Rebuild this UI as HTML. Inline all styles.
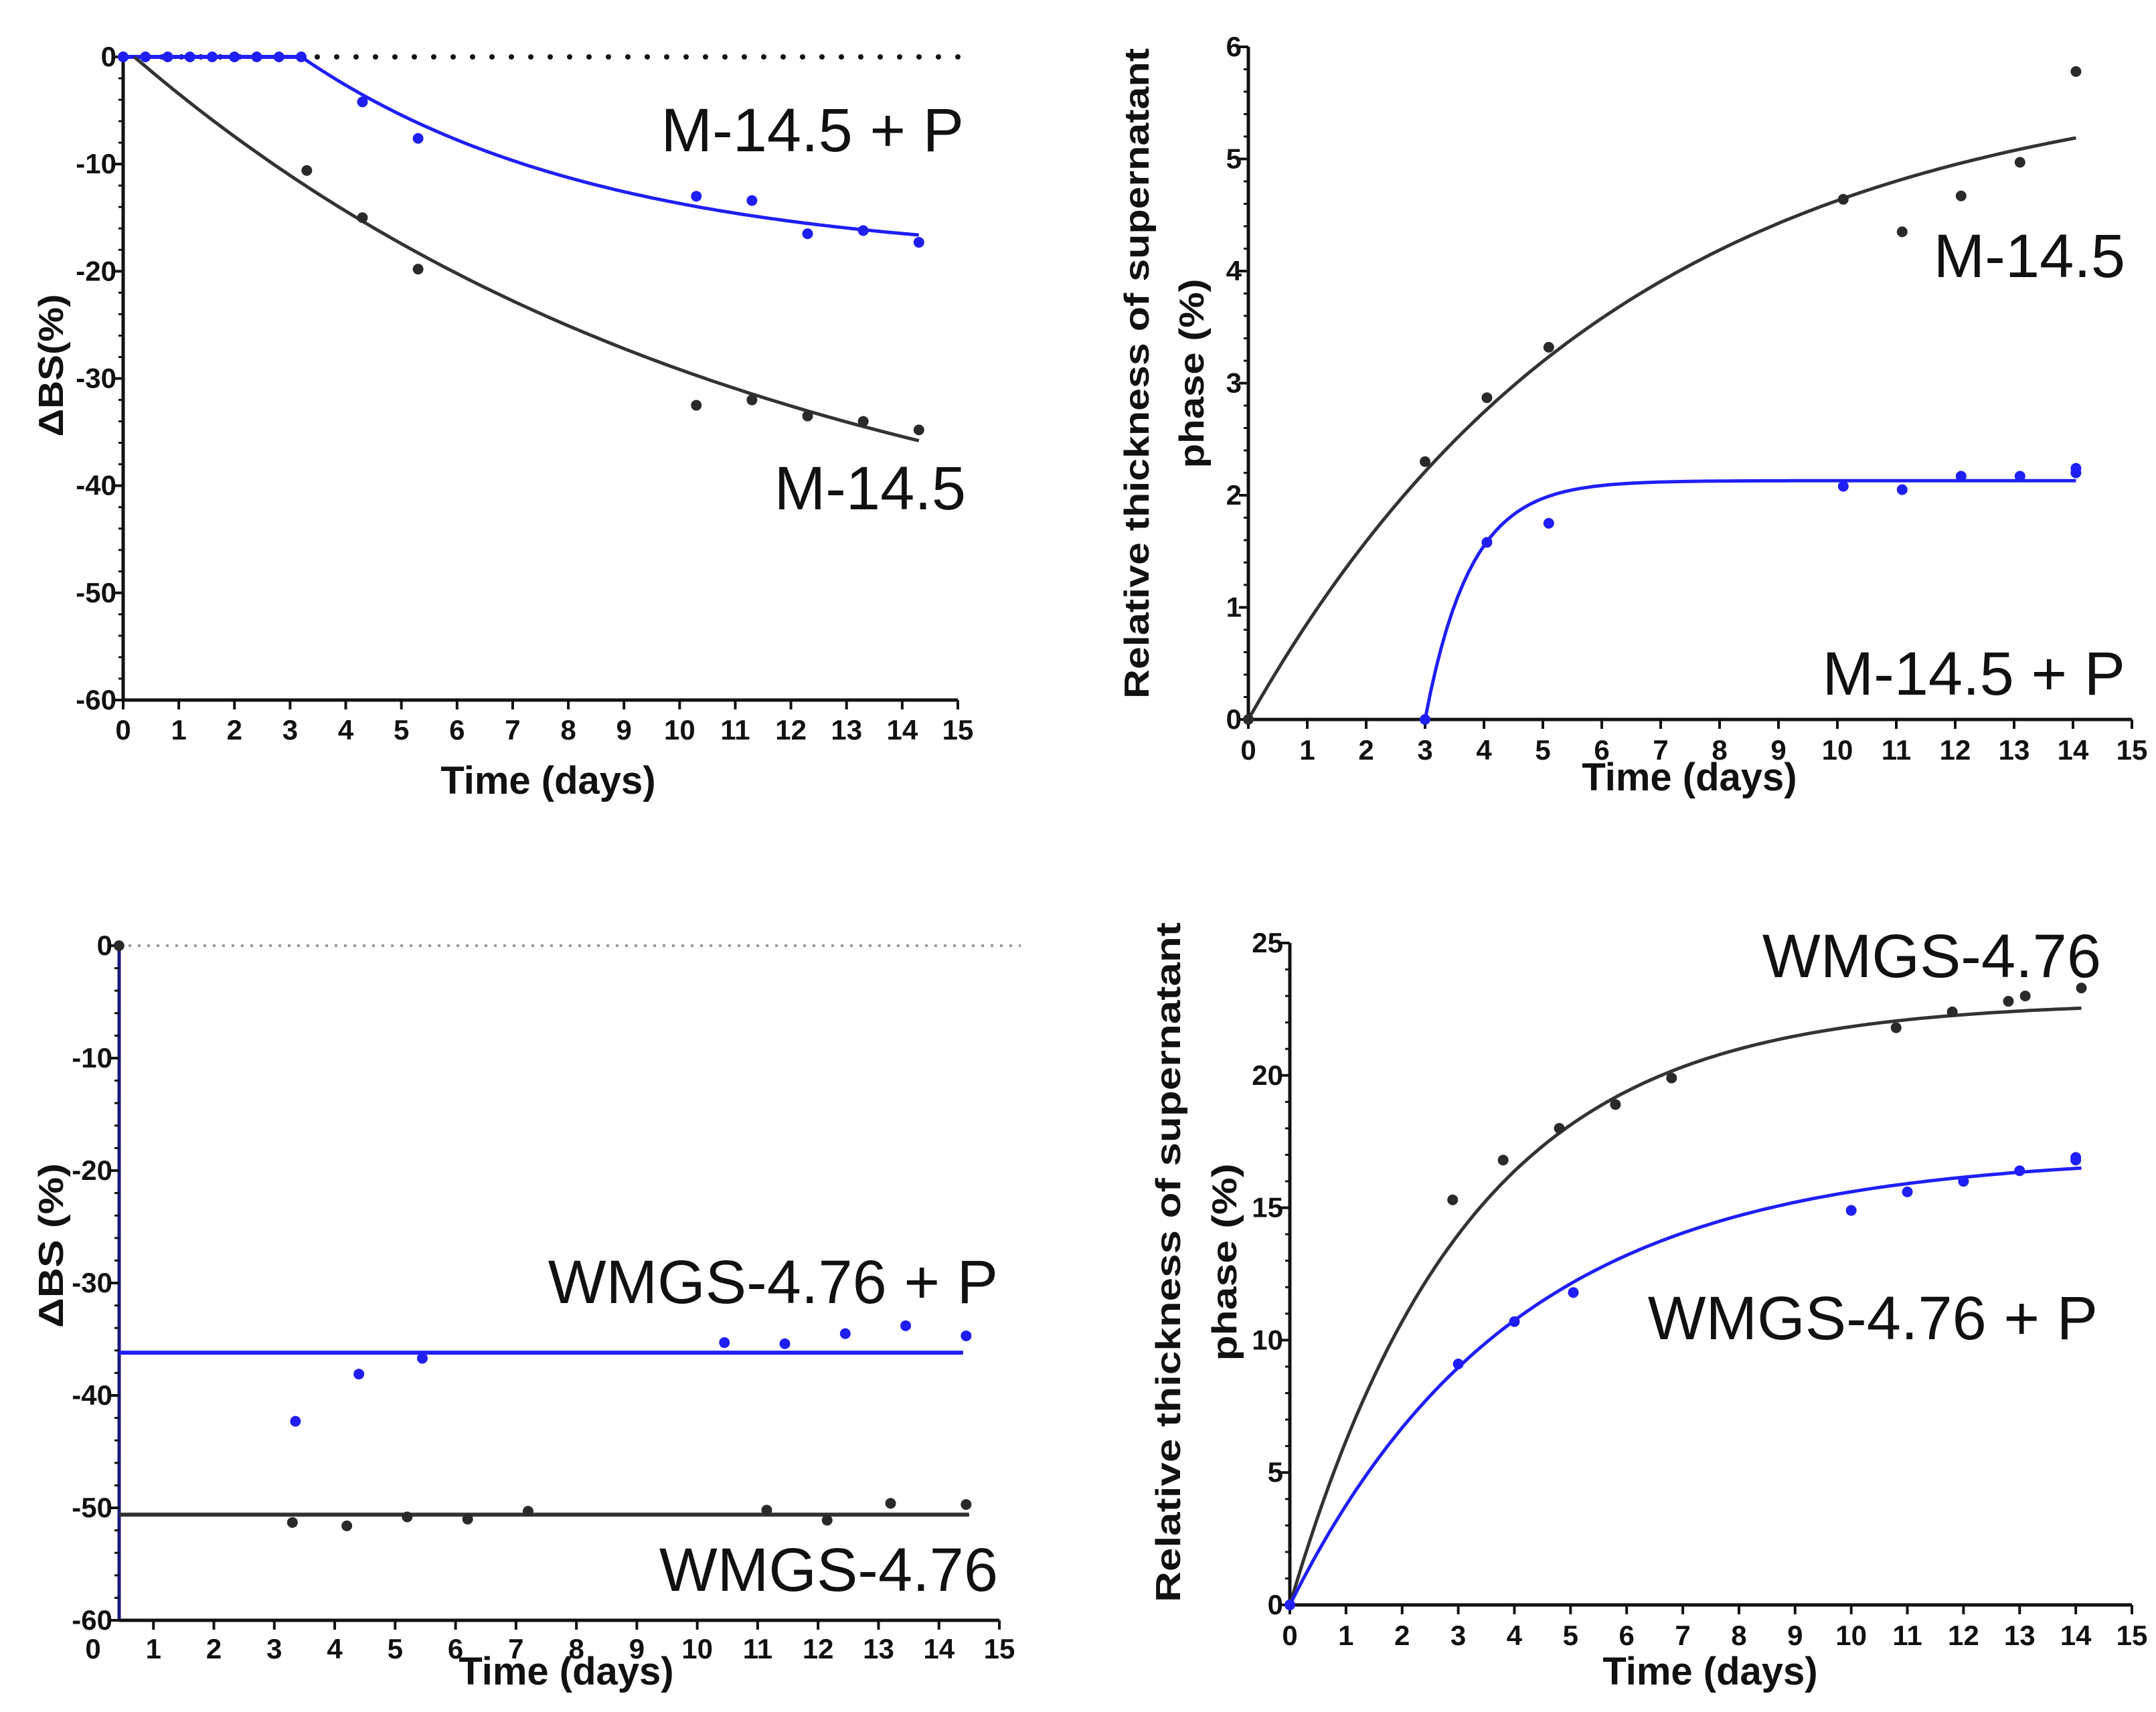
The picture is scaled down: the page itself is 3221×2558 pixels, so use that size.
<!DOCTYPE html>
<html><head><meta charset="utf-8"><style>
html,body{margin:0;padding:0;background:#fff;}
svg{display:block;font-family:"Liberation Sans",Arial,sans-serif;}
</style></head><body>
<svg id="fig" width="3221" height="2558" viewBox="0 0 3221 2558" xmlns="http://www.w3.org/2000/svg"></svg>
<script>
// ---------- Panel A: ΔBS M-14.5 ----------
const aBlackX = [0, 3.3, 4.3, 5.3, 10.3, 11.3, 12.3, 13.3, 14.3];
const aBlackY = [0, -10.6, -15, -19.8, -32.5, -32, -33.5, -34, -34.8];
const aBlueX = [0, 0.4, 0.8, 1.2, 1.6, 2.0, 2.4, 2.8, 3.2, 4.3, 5.3, 10.3, 11.3, 12.3, 13.3, 14.3];
const aBlueY = [0, 0, 0, 0, 0, 0, 0, 0, 0, -4.2, -7.6, -13, -13.4, -16.5, -16.2, -17.3];
const aBlackFit = [0.2, 14.3, -50, 0.0893];   // start, end, plateau, rate
const aBlueFit = [3.2, 14.3, -19, 0.187];
const aYTicks = [0, -10, -20, -30, -40, -50, -60];
// ---------- Panel B: thickness M-14.5 ----------
const bBlackX = [0, 3, 4.05, 5.1, 10.1, 11.1, 12.1, 13.1, 14.05];
const bBlackY = [0, 2.3, 2.87, 3.32, 4.64, 4.35, 4.67, 4.97, 5.78];
const bBlueX = [3, 4.05, 5.1, 10.1, 11.1, 12.1, 13.1, 14.05, 14.05];
const bBlueY = [0, 1.58, 1.75, 2.08, 2.05, 2.17, 2.17, 2.2, 2.24];
const bBlackFit = [0, 14.05, 5.8, 0.16];
const bBlueFit = [3, 14.05, 2.13, 1.3];
const bYTicks = [0, 1, 2, 3, 4, 5, 6];
// ---------- Panel C: ΔBS WMGS-4.76 ----------
const cBlackX = [3.3, 4.2, 5.2, 6.2, 7.2, 11.15, 12.15, 13.2, 14.45];
const cBlackY = [-51.3, -51.6, -50.8, -51, -50.3, -50.2, -51.1, -49.6, -49.7];
const cBlueX = [3.35, 4.4, 5.45, 10.45, 11.45, 12.45, 13.45, 14.45];
const cBlueY = [-42.3, -38.1, -36.7, -35.3, -35.4, -34.5, -33.8, -34.7];
const cBlackLevel = [0.43, 14.5, -50.6];
const cBlueLevel = [0.43, 14.4, -36.2];
const cYTicks = [0, -10, -20, -30, -40, -50, -60];
// ---------- Panel D: thickness WMGS-4.76 ----------
const dBlackX = [0, 2.9, 3.8, 4.8, 5.8, 6.8, 10.8, 11.8, 12.8, 13.1, 14.1];
const dBlackY = [0, 15.3, 16.8, 18, 18.9, 19.9, 21.8, 22.4, 22.8, 23, 23.3];
const dBlueX = [0, 3, 4, 5.05, 10, 11, 12, 13, 14, 14];
const dBlueY = [0, 9.1, 10.7, 11.8, 14.9, 15.6, 16, 16.4, 16.8, 16.9];
const dBlackFit = [0, 14.1, 22.8, 0.317];
const dBlueFit = [0, 14.1, 17, 0.25];
const dYTicks = [0, 5, 10, 15, 20, 25];
const xTicks = [0,1,2,3,4,5,6,7,8,9,10,11,12,13,14,15];

const NS = "http://www.w3.org/2000/svg";
const svg = document.getElementById('fig');
const BLUE = "#1f1ff5", BLACK = "#2a2a2a";
function mk(tag, attrs, parent, text) {
  const e = document.createElementNS(NS, tag);
  for (const k in attrs) e.setAttribute(k, attrs[k]);
  if (text !== undefined) e.textContent = text;
  (parent || svg).appendChild(e);
  return e;
}
function scales(p) {
  return {
    sx: v => p.x0 + (v / 15) * (p.x15 - p.x0),
    sy: v => p.yA + (v - p.vA) / (p.vB - p.vA) * (p.yB - p.yA)
  };
}
function axes(p, g, yTicks, name) {
  const s = scales(p);
  const yTop = s.sy(p.vA), yBot = s.sy(p.vB);
  const baseY = Math.max(yTop, yBot), topY = Math.min(yTop, yBot);
  const ax = mk('line', {x1:p.axisX, y1:topY, x2:p.axisX, y2:baseY, stroke:p.axisColor||"#111", 'stroke-width':5}, g);
  
  
  const xl = mk('line', {x1:p.axisX, y1:baseY, x2:s.sx(15), y2:baseY, stroke:"#111", 'stroke-width':5}, g);
  
  
  const step = (yTicks[1]-yTicks[0]) / 5;
  const nMinor = Math.round((yTicks[yTicks.length-1]-yTicks[0]) / step);
  for (let i = 0; i <= nMinor; i++) {
    const y = s.sy(yTicks[0] + i*step);
    mk('line', {x1:p.axisX-7, y1:y, x2:p.axisX, y2:y, stroke:"#111", 'stroke-width':3}, g);
  }
  yTicks.forEach(v => {
    const y = s.sy(v);
    mk('line', {x1:p.axisX-14, y1:y, x2:p.axisX, y2:y, stroke:"#111", 'stroke-width':4}, g);
    const t = mk('text', {x:p.axisX-10, y:y+14, 'text-anchor':'end', 'font-size':42, 'font-weight':'bold', fill:'#111'}, g, String(v));
    
    
  });
  xTicks.forEach(v => {
    const x = s.sx(v);
    if (x >= p.axisX - 1) mk('line', {x1:x, y1:baseY, x2:x, y2:baseY+14, stroke:"#111", 'stroke-width':4}, g);
    const t = mk('text', {x:x, y:p.xLabY+2, 'text-anchor':'middle', 'font-size':42, 'font-weight':'bold', fill:'#111'}, g, String(v));
    
    
  });
  const tl = mk('text', {x:p.timeX, y:p.timeY, 'text-anchor':'middle', 'font-size':58, 'font-weight':'bold', fill:'#111'}, g, 'Time (days)');
  
  
  return s;
}
function dots(s, xs, ys, color, g, name, r) {
  xs.forEach((x, i) => {
    const c = mk('circle', {cx:s.sx(x), cy:s.sy(ys[i]), r:r||8, fill:color}, g);
    
    
  });
}
function fitCurve(s, fit, color, g, name) {
  const [t0, t1, A, k] = fit;
  let d = '';
  for (let i = 0; i <= 120; i++) {
    const t = t0 + (t1 - t0) * i / 120;
    const v = A * (1 - Math.exp(-k * (t - t0)));
    d += (i ? 'L' : 'M') + s.sx(t).toFixed(1) + ',' + s.sy(v).toFixed(1);
  }
  const p = mk('path', {d:d, fill:'none', stroke:color, 'stroke-width':5}, g);
  
  
}
function level(s, lv, color, g, name) {
  const l = mk('line', {x1:s.sx(lv[0]), y1:s.sy(lv[2]), x2:s.sx(lv[1]), y2:s.sy(lv[2]), stroke:color, 'stroke-width':6}, g);
  
  
}
function label(g, txt, x, y, name, size) {
  const t = mk('text', {x:x, y:y, 'text-anchor':'end', 'font-size':size||92, fill:'#111'}, g, txt);
  
  
}
function yTitle(g, lines, cx, cy, lens, name) {
  lines.forEach((ln, i) => {
    const t = mk('text', {x:0, y:0, transform:`translate(${cx[i]},${cy}) rotate(-90)`, 'text-anchor':'middle', 'font-size':52, 'font-weight':'bold', fill:'#111', textLength:lens[i], lengthAdjust:'spacingAndGlyphs'}, g, ln);
    
    
  });
}

// Panel A
const gA = mk('g', {});  
const pA = {x0:184, x15:1431, axisX:184, vA:0, vB:-60, yA:85, yB:1046, xLabY:1103, timeX:819, timeY:1186};
const sA = axes(pA, gA, aYTicks, 'panel-a');
const zA = mk('line', {x1:184, y1:sA.sy(0), x2:1440, y2:sA.sy(0), stroke:'#111', 'stroke-width':8, 'stroke-dasharray':'0 29', 'stroke-linecap':'round'}, gA);
 
level(sA, [0, 3.2, 0], BLUE, gA, 'blue-baseline-segment');
fitCurve(sA, aBlackFit, "#333", gA, 'm145-fit-curve');
fitCurve(sA, aBlueFit, BLUE, gA, 'm145p-fit-curve');
dots(sA, aBlackX, aBlackY, BLACK, gA, 'm145-point');
dots(sA, aBlueX, aBlueY, BLUE, gA, 'm145p-point');
label(gA, 'M-14.5 + P', 1440, 226, 'label-m145p');
label(gA, 'M-14.5', 1443, 761, 'label-m145');
yTitle(gA, ['ΔBS(%)'], [94], 546, [213], 'panel-a-y-axis-title');

// Panel B
const gB = mk('g', {});  
const pB = {x0:1865, x15:3185, axisX:1865, vA:0, vB:6, yA:1075, yB:70, xLabY:1133, timeX:2524, timeY:1181};
const sB = axes(pB, gB, bYTicks, 'panel-b');
fitCurve(sB, bBlackFit, "#333", gB, 'm145-fit-curve');
fitCurve(sB, bBlueFit, BLUE, gB, 'm145p-fit-curve');
dots(sB, bBlackX, bBlackY, BLACK, gB, 'm145-point');
dots(sB, bBlueX, bBlueY, BLUE, gB, 'm145p-point');
label(gB, 'M-14.5', 3175, 414, 'label-m145');
label(gB, 'M-14.5 + P', 3175, 1038, 'label-m145p');
yTitle(gB, ['Relative thickness of supernatant', 'phase (%)'], [1716, 1798], 558, [972, 283], 'panel-b-y-axis-title');

// Panel C
const gC = mk('g', {});  
const pC = {x0:139, x15:1493, axisX:178, vA:0, vB:-60, yA:1413, yB:2421, xLabY:2476, timeX:846, timeY:2517, axisColor:'#1a1a80'};
const sC = axes(pC, gC, cYTicks, 'panel-c');
const zC = mk('line', {x1:178, y1:sC.sy(0), x2:1525, y2:sC.sy(0), stroke:'#999', 'stroke-width':4, 'stroke-dasharray':'4 10'}, gC);
 
level(sC, cBlueLevel, BLUE, gC, 'wmgsp-mean-line');
level(sC, cBlackLevel, "#333", gC, 'wmgs-mean-line');
dots(sC, cBlackX, cBlackY, BLACK, gC, 'wmgs-point');
dots(sC, cBlueX, cBlueY, BLUE, gC, 'wmgsp-point');
dots(sC, [0.43], [0], BLACK, gC, 'origin-point');
label(gC, 'WMGS-4.76 + P', 1491, 1947, 'label-wmgsp');
label(gC, 'WMGS-4.76', 1491, 2377, 'label-wmgs');
yTitle(gC, ['ΔBS (%)'], [94], 1861, [246], 'panel-c-y-axis-title');

// Panel D
const gD = mk('g', {});  
const pD = {x0:1927, x15:3185, axisX:1927, vA:0, vB:25, yA:2398, yB:1409, xLabY:2456, timeX:2555, timeY:2517};
const sD = axes(pD, gD, dYTicks, 'panel-d');
fitCurve(sD, dBlackFit, "#333", gD, 'wmgs-fit-curve');
fitCurve(sD, dBlueFit, BLUE, gD, 'wmgsp-fit-curve');
dots(sD, dBlackX, dBlackY, BLACK, gD, 'wmgs-point');
dots(sD, dBlueX, dBlueY, BLUE, gD, 'wmgsp-point');
label(gD, 'WMGS-4.76', 3139, 1460, 'label-wmgs');
label(gD, 'WMGS-4.76 + P', 3134, 2001, 'label-wmgsp');
yTitle(gD, ['Relative thickness of supernatant', 'phase (%)'], [1763, 1847], 1886, [1016, 295], 'panel-d-y-axis-title');
</script>
</body></html>
